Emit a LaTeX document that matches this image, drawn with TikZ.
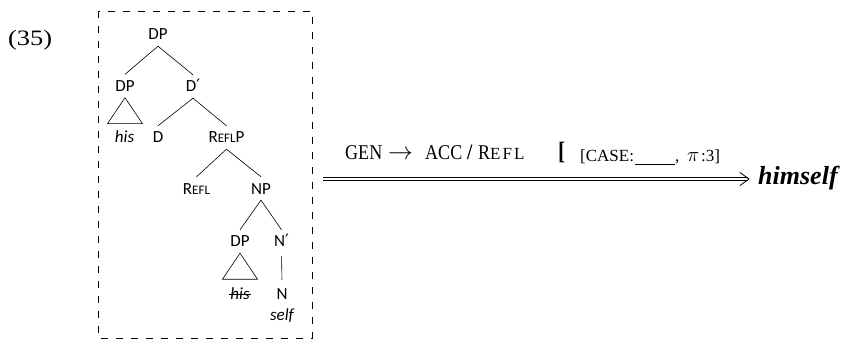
\documentclass[tikz,border=0pt]{standalone}
\usepackage{fontspec}
\setmainfont{Liberation Serif}
\newfontfamily\mainst[FakeStretch=0.86]{Liberation Serif}
\newfontfamily\widefont[FakeStretch=1.2]{Liberation Serif}
\newfontfamily\treefont{Carlito}
\newfontfamily\symfont{DejaVu Sans}
\tikzset{
  tl/.style={font=\treefont\fontsize{17}{17}\selectfont, text height=11pt, text depth=0pt, inner xsep=1pt, inner ysep=6pt, anchor=base},
  tw/.style={font=\treefont\itshape\fontsize{17}{17}\selectfont, inner sep=0pt, anchor=base},
  branch/.style={line width=0.6pt},
  framebox/.style={line width=0.6pt, dash pattern=on 7pt off 8pt},
  railline/.style={line width=0.6pt},
  tiphead/.style={line width=0.8pt, line cap=round, line join=miter}
}
\newcommand{\tsc}[1]{{\fontsize{13}{13}\selectfont #1}}
\newcommand{\prm}{{\symfont\fontsize{17}{17}\selectfont ′}}
\begin{document}
\begin{tikzpicture}[x=1pt, y=-1pt]
\useasboundingbox (0,0) rectangle (844,342);
% example number
\node[anchor=base west, inner sep=0pt, font=\widefont\fontsize{22}{22}\selectfont] (num) at (8,46) {(35)};
% frame
\draw[framebox] (98,11) rectangle (312,338);
% tree
\node[tl] (root) at (158,40) {DP};
\node[tl] (dpl) at (125,91.5) {DP};
\node[tl] (dbar) at (193,92) {D\prm};
\node[tw] (his1) at (124.5,143) {his};
\node[tl] (d) at (158,143) {D};
\node[tl] (reflp) at (226.5,143) {R\tsc{EFL}P};
\node[tl] (refl) at (196.5,194) {R\tsc{EFL}};
\node[tl] (np) at (261,194) {NP};
\node[tl] (dp2) at (240,247) {DP};
\node[tl] (nbar) at (281.5,247) {N\prm};
\node[tw] (his2) at (240,299) {his};
\node[tl] (n) at (282,299) {N};
\node[tw] (self) at (282,320) {self};
\draw[branch] (root.south) -- (dpl.north);
\draw[branch] (root.south) -- (dbar.north);
\draw[branch] (dbar.south) -- (d.north);
\draw[branch] (dbar.south) -- (reflp.north);
\draw[branch] (reflp.south) -- (refl.north);
\draw[branch] (reflp.south) -- (np.north);
\draw[branch] (np.south) -- (dp2.north);
\draw[branch] (np.south) -- (nbar.north);
\draw[branch, shorten <=3pt, shorten >=2pt] (nbar.south) -- (n.north);
\draw[branch] (dpl.south) -- ++(-17.5,26) -- ++(35,0) -- cycle;
\draw[branch] (dp2.south) -- ++(-17.5,26) -- ++(35,0) -- cycle;
\draw[line width=0.6pt] ([yshift=4.5pt,xshift=-1pt]his2.base west) -- ([yshift=4.5pt,xshift=1pt]his2.base east);
% rule label
\node[anchor=base west, inner sep=0pt, font=\mainst\fontsize{21}{21}\selectfont] (rule) at (345,160) {%
\makebox[43pt][l]{GEN}%
\makebox[37pt][l]{\fontsize{26}{26}\selectfont$\rightarrow$}%
\makebox[40pt][l]{ACC}%
\makebox[13pt][l]{\hspace{2pt}\fontsize{22}{22}\selectfont\bfseries /}%
\makebox[80pt][l]{R{\rmfamily\fontsize{17}{17}\selectfont\addfontfeature{LetterSpace=12}EFL}}%
\makebox[22pt][l]{\fontsize{25}{25}\selectfont\bfseries [}%
\raisebox{-2pt}{\rmfamily\fontsize{17}{17}\selectfont\makebox[55pt][l]{[CASE:}\rule[-3pt]{40pt}{0.5pt}\makebox[12pt][l]{,}\makebox[14pt][l]{\fontsize{21}{21}\selectfont$\pi$}:3]}%
};
% result
\node[anchor=base west, inner sep=0pt, font=\fontsize{26}{26}\selectfont\bfseries\itshape] (himself) at (758,185) {himself};
\coordinate (arrstart) at (323,179);
\coordinate (arrend) at (arrstart -| himself.west);
\coordinate (arrtip) at ([xshift=-9pt]arrend);
\draw[railline] ([yshift=1.2pt]arrstart) -- ([yshift=1.2pt,xshift=-1.5pt]arrtip);
\draw[railline] ([yshift=-1.2pt]arrstart) -- ([yshift=-1.2pt,xshift=-1.5pt]arrtip);
\draw[tiphead] ([xshift=-9pt,yshift=6.5pt]arrtip) -- (arrtip) -- ([xshift=-9pt,yshift=-6.5pt]arrtip);
\end{tikzpicture}
\end{document}
